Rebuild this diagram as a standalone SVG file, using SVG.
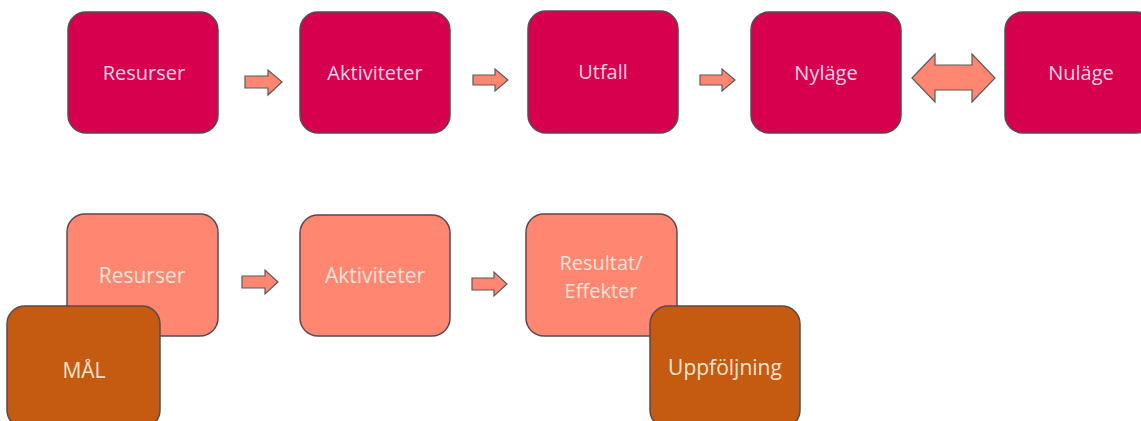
<svg xmlns="http://www.w3.org/2000/svg" width="1141" height="421" viewBox="0 0 1141 421">
<style>
.box{stroke:#5a4a50;stroke-width:1.5}
.top{fill:#D7004F}
.sal{fill:#FF8670}
.brn{fill:#C55A11}
.arr{fill:#FF8670;stroke:#5a5a5a;stroke-width:1.2}
text{font-family:"Open Sans","Liberation Sans",sans-serif;font-size:20px;text-anchor:middle}
.tt{fill:#F8D3E0}
.st{fill:#FDE3DA;font-size:21px}
.st2{fill:#FDE3DA;font-size:20px}
.bt{fill:#FDE3D0;font-size:21px}
</style>
<rect width="1141" height="421" fill="#ffffff"/>
<g id="connectors">
<path class="arr" d="M245,76 H268 V70 L282,82 L268,95 V88 H245 Z"/>
<path class="arr" d="M473,75 H495 V69 L508,80 L495,91 V85 H473 Z"/>
<path class="arr" d="M700,75 H722 V69 L735,80 L722,91 V85 H700 Z"/>
<path class="arr" d="M912,78 L935,54 V65 H972 V54 L995,78 L972,102 V90 H935 V102 Z"/>
<path class="arr" d="M242,276 H265 V270 L278,282 L265,294 V288 H242 Z"/>
<path class="arr" d="M472,278 H494 V272 L507,284 L494,296 V290 H472 Z"/>
</g>
<g id="n1"><rect class="box top" x="68" y="12" width="150" height="121" rx="18"/><text class="tt" x="144" y="80">Resurser</text></g>
<g id="n2"><rect class="box top" x="300" y="12" width="150" height="121" rx="18"/><text class="tt" x="375" y="80">Aktiviteter</text></g>
<g id="n3"><rect class="box top" x="528" y="11" width="150" height="122" rx="18"/><text class="tt" x="603" y="79">Utfall</text></g>
<g id="n4"><rect class="box top" x="751" y="12" width="150" height="121" rx="18"/><text class="tt" x="826" y="80">Nyläge</text></g>
<g id="n5"><rect class="box top" x="1005" y="12" width="150" height="121" rx="18"/><text class="tt" x="1081" y="80">Nuläge</text></g>
<g id="n6"><rect class="box sal" x="67" y="214" width="151" height="122" rx="18"/><text class="st" x="142" y="283">Resurser</text></g>
<g id="n7"><rect class="box sal" x="300" y="215" width="150" height="121" rx="18"/><text class="st" x="375" y="283">Aktiviteter</text></g>
<g id="n8"><rect class="box sal" x="526" y="214" width="151" height="122" rx="18"/><text class="st2" x="601" y="270">Resultat/</text><text class="st2" x="601" y="298">Effekter</text></g>
<g id="n9"><rect class="box brn" x="7" y="306" width="153" height="122" rx="18"/><text class="bt" x="84" y="378">MÅL</text></g>
<g id="n10"><rect class="box brn" x="650" y="306" width="150" height="122" rx="18"/><text class="bt" x="725" y="375">Uppföljning</text></g>
</svg>
